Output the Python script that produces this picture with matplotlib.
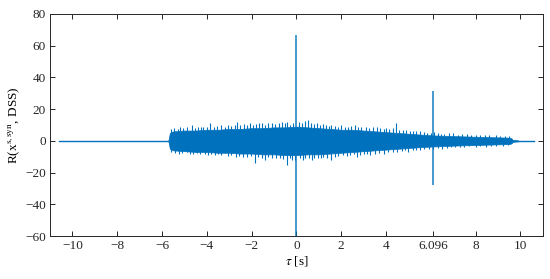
#!/usr/bin/env python3
"""
Cross-correlation of the synthetic signal with the DSS record.

Recreates the correlation-vs-lag plot (lag tau in seconds).
"""

import matplotlib
matplotlib.use("Agg")
import matplotlib.pyplot as plt

LINE_COLOR = "#0072BD"

# lag range covered by the correlation (zero outside the overlap)
flat_tau = [-10.59, 10.59]
flat_val = [0, 0]

body_tau = [-5.72, -5.65, -5.5, -5.0, -4.5, -4.0, -3.5, -3.0, -2.5, -2.0, -1.5, -1.0,
            -0.5, 0.0, 0.5, 1.0, 1.5, 2.0, 2.5, 3.0, 3.5, 4.0, 4.5, 5.0, 5.5, 6.0,
            6.5, 7.0, 7.5, 8.0, 8.5, 9.0, 9.5, 9.6, 9.65, 9.9]
body_upper = [0, 5, 6, 6.5, 6.5, 7, 7, 7.5, 7.5, 8, 8, 8.5,
              8.5, 9, 8.5, 8, 7.5, 7, 7, 6.5, 6, 5.5, 5, 4.5, 4, 3.5,
              3.2, 3, 2.8, 2.6, 2.4, 2.2, 2, 1.6, 0.6, 0.3]
body_lower = [0, -5, -6, -6.5, -7, -7, -7.5, -7.5, -8, -8, -8.5, -8.5,
              -9, -9, -8.5, -8.5, -8, -7.5, -7, -6.5, -6, -5.5, -5, -4.5, -4, -3.6,
              -3.3, -3, -2.8, -2.6, -2.4, -2.2, -2, -1.6, -0.6, -0.3]

# individual excursions sticking out of the body
top_tau = [-5.62, -5.45, -5.3, -5.18, -5.05, -4.9, -4.68, -4.55, -4.4, -4.28,
           -4.16, -4.0, -3.87, -3.7, -3.55, -3.35, -3.2, -3.05, -2.9, -2.75,
           -2.66, -2.5, -2.35, -2.2, -2.08, -1.95, -1.8, -1.68, -1.55, -1.4,
           -1.25, -1.11, -0.95, -0.8, -0.66, -0.5, -0.4, -0.3, -0.15, 0.1,
           0.25, 0.4, 0.51, 0.65, 0.78, 0.9, 1.05, 1.18, 1.3, 1.45,
           1.56, 1.7, 1.85, 2.0, 2.15, 2.3, 2.45, 2.6, 2.75, 2.9,
           3.1, 3.25, 3.4, 3.6, 3.75, 3.9, 4.0, 4.15, 4.3, 4.46,
           4.6, 4.75, 4.9, 5.05, 5.2, 5.35, 5.5, 5.7, 5.85, 6.0,
           6.15, 6.3, 6.45, 6.6, 6.8, 7.0, 7.2, 7.4, 7.6, 7.8,
           8.0, 8.2, 8.4, 8.6, 8.9, 9.1, 9.3, 9.5]
top_val = [7.5, 8, 7.5, 9, 8, 8.5, 10, 8, 8.5, 9,
           9, 8.5, 11, 9, 9.5, 10, 9, 10, 9.5, 10,
           12, 10, 10.5, 10, 11, 10, 10.5, 11, 11, 10,
           11.5, 11, 10.5, 11, 12, 11, 12, 10, 11, 12,
           11, 12.5, 13, 11, 10.5, 11, 10, 10.5, 10, 9.5,
           10, 9.5, 9, 10, 9, 9, 9.5, 10, 9, 8.5,
           9, 8, 8.5, 9, 8, 7.5, 8, 7.5, 8, 11,
           7, 7, 7, 6.5, 6, 6.5, 6, 5.5, 5, 5,
           5.5, 5, 4.5, 4.5, 5, 5, 4, 4.5, 4.5, 4,
           4, 4, 3.5, 3.8, 3.5, 3.2, 3, 2.8]
bottom_tau = [-5.6, -5.4, -5.25, -5.1, -4.9, -4.75, -4.6, -4.45, -4.3, -4.1,
              -3.93, -3.8, -3.65, -3.5, -3.35, -3.19, -3.05, -2.9, -2.7, -2.55,
              -2.4, -2.2, -2.05, -1.85, -1.7, -1.55, -1.4, -1.25, -1.1, -0.9,
              -0.75, -0.6, -0.44, -0.3, -0.18, -0.07, 0.15, 0.28, 0.4, 0.55,
              0.68, 0.8, 0.95, 1.08, 1.2, 1.35, 1.56, 1.7, 1.85, 2.1,
              2.25, 2.4, 2.55, 2.7, 2.85, 3.0, 3.15, 3.3, 3.5, 3.7,
              3.9, 4.1, 4.3, 4.5, 4.7, 4.85, 5.0, 5.2, 5.35, 5.5,
              5.7, 5.9, 6.1, 6.3, 6.5, 6.7, 6.9, 7.1, 7.3, 7.5,
              7.7, 8.0, 8.2, 8.47, 8.7, 8.9, 9.2, 9.45]
bottom_val = [-7, -7.5, -8, -7.5, -7, -8.5, -8, -7.8, -8.5, -8,
              -8.8, -8.5, -9, -8.5, -9, -7.8, -9.5, -9, -10, -9.5,
              -10, -10, -9.5, -14, -10, -10.5, -12, -10, -11, -11,
              -10.5, -11.5, -15, -11, -12, -12, -11, -12, -11, -10.5,
              -12, -11, -10.5, -11, -10, -10.5, -12, -10, -9.5, -9,
              -9.5, -9, -8.5, -10, -9, -8.5, -8, -9, -8, -7.5,
              -8, -7, -7, -7, -6.5, -6, -7, -6, -5.5, -5.7,
              -5, -5, -5, -4.5, -5, -4.5, -4, -4, -4, -3.8,
              -3.5, -4, -3.5, -3.6, -3.2, -3, -3, -2.6]

# the two correlation peaks
spike_tau = [0.0, 6.096]
spike_hi = [66.8, 31.5]
spike_lo = [-61, -27.6]

xtick_vals = [-10, -8, -6, -4, -2, 0, 2, 4, 6.096, 8, 10]
xtick_labels = ["\u221210", "\u22128", "\u22126", "\u22124", "\u22122", "0", "2", "4", "6.096", "8", "10"]
ytick_vals = [-60, -40, -20, 0, 20, 40, 60, 80]


def draw_correlation():
    plt.rcParams["font.family"] = ["Liberation Serif", "DejaVu Serif"]
    plt.rcParams["mathtext.fontset"] = "stix"
    plt.rcParams["font.size"] = 9.5

    fig = plt.figure(figsize=(5.5, 2.79), dpi=100)
    ax = fig.add_axes([0.091, 0.154, 0.896, 0.796])

    ax.plot(flat_tau, flat_val, color=LINE_COLOR, lw=1.0)
    ax.fill_between(body_tau, body_lower, body_upper, color=LINE_COLOR, lw=0.5)
    ax.vlines(top_tau, 0, top_val, color=LINE_COLOR, lw=0.8)
    ax.vlines(bottom_tau, 0, bottom_val, color=LINE_COLOR, lw=0.8)
    ax.vlines(spike_tau, spike_lo, spike_hi, color=LINE_COLOR, lw=1.2, alpha=0.85)

    ax.set_xlim(-11, 11)
    ax.set_ylim(-60, 80)
    ax.set_xticks(xtick_vals)
    ax.set_xticklabels(xtick_labels)
    ax.set_yticks(ytick_vals)

    ax.tick_params(direction="in", length=3.5, width=0.7, colors="#262626",
                   top=True, right=True, pad=3)
    for side in ax.spines.values():
        side.set_color("#262626")
        side.set_linewidth(0.7)

    ax.set_xlabel(r"$\tau$ [s]", labelpad=1)
    ax.set_ylabel(r"R(x$^{\mathrm{s,syn}}$, DSS)", labelpad=2)

    fig.savefig("out.png", dpi=100)


if __name__ == "__main__":
    draw_correlation()
